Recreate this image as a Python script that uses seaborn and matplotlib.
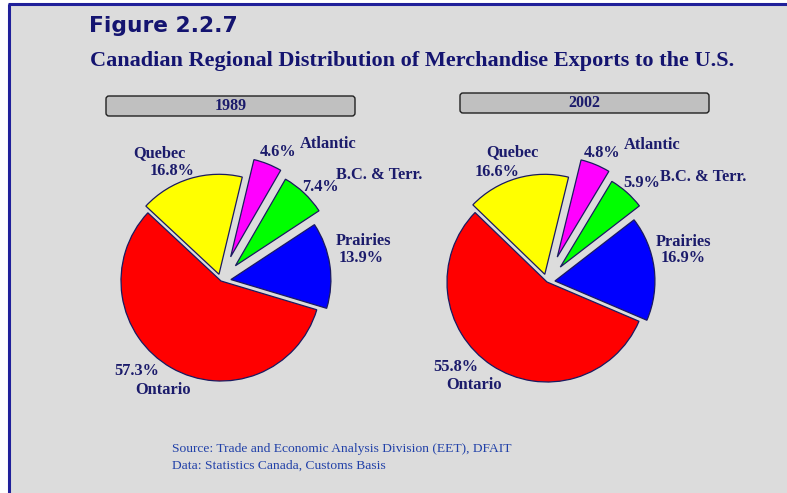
import matplotlib
matplotlib.use("Agg")
import matplotlib.pyplot as plt
import seaborn as sns
from matplotlib.patches import FancyBboxPatch, Rectangle

# ---- data ----
regions = ["Ontario", "Prairies", "B.C. & Terr.", "Atlantic", "Quebec"]
shares_1989 = [57.3, 13.9, 7.4, 4.6, 16.8]
shares_2002 = [55.8, 16.9, 5.9, 4.8, 16.6]
years = ["1989", "2002"]
region_colors = ["#FF0000", "#0000FF", "#00FF00", "#FF00FF", "#FFFF00"]

title_text = "Figure 2.2.7"
subtitle_text = "Canadian Regional Distribution of Merchandise Exports to the U.S."
source_lines = ["Source: Trade and Economic Analysis Division (EET), DFAIT",
                "Data: Statistics Canada, Customs Basis"]

sns.set_theme(style="white")
palette = sns.color_palette(region_colors)

W, H = 787, 493
BG = "#DCDCDC"
NAVY = "#1B1B6B"
R = 100
fig = plt.figure(figsize=(W / 100, H / 100), dpi=100, facecolor="white")
ax = fig.add_axes([0, 0, 1, 1])
ax.set_facecolor("white")


def Y(y):
    return H - y


# background panel with border
ax.add_patch(Rectangle((8, -5), W + 10, Y(4) + 5, facecolor=BG, edgecolor="none", zorder=0))
ax.plot([9, 9], [-5, Y(3.5)], color="#20209A", lw=2.2, solid_capstyle="butt", zorder=1)
ax.plot([8, W + 5], [Y(3.5), Y(3.5)], color="#20209A", lw=2.2, solid_capstyle="butt", zorder=1)

ax.text(89, Y(26), title_text, fontsize=15.7, fontweight="bold", color="#141470",
        family="DejaVu Sans", va="center", ha="left")
ax.text(90, Y(61), subtitle_text, fontsize=16.0, fontweight="bold", color="#141470",
        family="Liberation Serif", va="center", ha="left")

# pies
pie_specs = [
    dict(values=shares_1989, center=(221, 281), start=137,
         explode=[0, 0.10, 0.21, 0.26, 0.07], box=(106, 96, 355, 116)),
    dict(values=shares_2002, center=(547, 282), start=136,
         explode=[0, 0.08, 0.20, 0.27, 0.08], box=(460, 93, 709, 113)),
]
# label anchor positions (pixel layout) for name and percentage per region
label_layout = [
    {  # 1989
        "Ontario": [((163, 390), "n"), ((137, 371), "v")],
        "Prairies": [((363, 241), "n"), ((361, 258), "v")],
        "B.C. & Terr.": [((379, 175), "n"), ((320, 187), "v")],
        "Atlantic": [((328, 144), "n"), ((278, 152), "v")],
        "Quebec": [((159, 153), "n"), ((172, 171), "v")],
    },
    {  # 2002
        "Ontario": [((474, 385), "n"), ((456, 367), "v")],
        "Prairies": [((684, 242), "n"), ((683, 258), "v")],
        "B.C. & Terr.": [((703, 177), "n"), ((642, 183), "v")],
        "Atlantic": [((652, 145), "n"), ((602, 153), "v")],
        "Quebec": [((512, 152), "n"), ((497, 172), "v")],
    },
]

for spec, year, layout in zip(pie_specs, years, label_layout):
    cx, cy = spec["center"]
    ax.pie(spec["values"], colors=palette, startangle=spec["start"], counterclock=True,
           explode=[e * R for e in spec["explode"]], center=(cx, Y(cy)), radius=R,
           frame=True,
           wedgeprops=dict(edgecolor="#1A1A60", linewidth=0.9, zorder=3))
    x0, y0, x1, y1 = spec["box"]
    ax.add_patch(FancyBboxPatch((x0 + 3, Y(y1) + 3), x1 - x0 - 6, y1 - y0 - 6,
                                boxstyle="round,pad=3", facecolor="#C0C0C0",
                                edgecolor="#202020", linewidth=1.0, zorder=2))
    ax.text((x0 + x1) / 2, Y((y0 + y1) / 2), year, fontsize=11.5, fontweight="bold",
            color=NAVY, family="Liberation Serif", ha="center", va="center", zorder=4)
    for reg, val in zip(regions, spec["values"]):
        for (px, py), kind in layout[reg]:
            s = reg if kind == "n" else f"{val}%"
            ax.text(px, Y(py), s, fontsize=11.8, fontweight="bold", color=NAVY,
                    family="Liberation Serif", ha="center", va="center", zorder=5)

for i, line in enumerate(source_lines):
    ax.text(172, Y(449 + 17 * i), line, fontsize=9.7, color="#2040A8",
            family="Liberation Serif", ha="left", va="center")

ax.set_xlim(0, W)
ax.set_ylim(0, H)
ax.set_aspect("auto")
ax.axis("off")
fig.savefig("out.png", dpi=100, facecolor="white")
